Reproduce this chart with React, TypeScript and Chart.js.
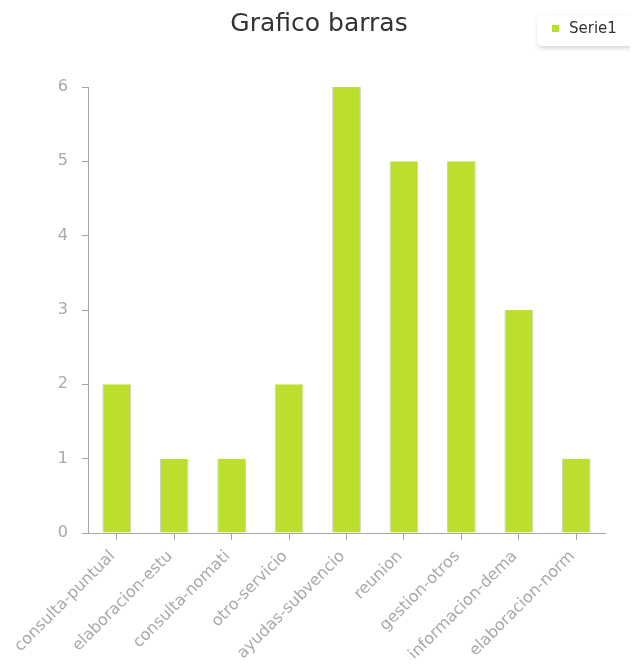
import React, { useEffect, useRef } from "react";
import { Chart, registerables } from "chart.js";

Chart.register(...registerables);

const categories = [
  "consulta-puntual",
  "elaboracion-estu",
  "consulta-nomati",
  "otro-servicio",
  "ayudas-subvencio",
  "reunion",
  "gestion-otros",
  "informacion-dema",
  "elaboracion-norm",
];
const serie1 = [2, 1, 1, 2, 6, 5, 5, 3, 1];
const seriesName = "Serie1";
const titleText = "Grafico barras";

const BAR = "#bbdf2c";
const AXIS = "#a6a6a6";
const LABEL = "#a8a8a8";
const FONT = "'DejaVu Sans', Verdana, sans-serif";

const decorPlugin = {
  id: "decor",
  afterDraw(chart: any) {
    const ctx = chart.ctx as CanvasRenderingContext2D;
    // title
    ctx.save();
    ctx.fillStyle = "#333333";
    ctx.font = `25px ${FONT}`;
    ctx.textAlign = "center";
    ctx.textBaseline = "middle";
    ctx.fillText(titleText, chart.width / 2, 16);
    ctx.restore();
    // legend
    const x = 529, y = 7, w = 110, h = 31, r = 6;
    ctx.save();
    ctx.shadowColor = "rgba(0,0,0,0.18)";
    ctx.shadowBlur = 5;
    ctx.shadowOffsetX = 1;
    ctx.shadowOffsetY = 2;
    ctx.fillStyle = "#ffffff";
    ctx.beginPath();
    ctx.moveTo(x + r, y);
    ctx.lineTo(x + w - r, y);
    ctx.quadraticCurveTo(x + w, y, x + w, y + r);
    ctx.lineTo(x + w, y + h - r);
    ctx.quadraticCurveTo(x + w, y + h, x + w - r, y + h);
    ctx.lineTo(x + r, y + h);
    ctx.quadraticCurveTo(x, y + h, x, y + h - r);
    ctx.lineTo(x, y + r);
    ctx.quadraticCurveTo(x, y, x + r, y);
    ctx.closePath();
    ctx.fill();
    ctx.restore();
    ctx.save();
    ctx.fillStyle = BAR;
    ctx.fillRect(x + 15, y + 10, 7, 7);
    ctx.fillStyle = "#333333";
    ctx.font = `15px ${FONT}`;
    ctx.textBaseline = "middle";
    ctx.fillText(seriesName, x + 32, y + 14);
    ctx.restore();
  },
};

export default function App() {
  const ref = useRef<HTMLCanvasElement>(null);
  useEffect(() => {
    if (!ref.current) return;
    const chart = new Chart(ref.current, {
      type: "bar",
      data: {
        labels: categories,
        datasets: [
          {
            label: seriesName,
            data: serie1,
            backgroundColor: BAR,
            borderColor: "rgba(160,170,150,0.55)",
            borderWidth: { left: 1, right: 1, top: 0, bottom: 0 },
            borderSkipped: false,
            barPercentage: 0.5,
            categoryPercentage: 1,
          },
        ],
      },
      options: {
        animation: false,
        responsive: true,
        maintainAspectRatio: false,
        layout: { padding: { left: 0, right: 25, top: 79, bottom: 0 } },
        plugins: {
          legend: { display: false },
          tooltip: { enabled: false },
          title: { display: false },
        },
        scales: {
          x: {
            grid: {
              display: true,
              offset: false,
              drawOnChartArea: false,
              drawTicks: true,
              tickLength: 7,
              color: AXIS,
            },
            border: { display: true, color: AXIS, width: 1 },
            ticks: {
              color: LABEL,
              font: { family: FONT, size: 16 },
              minRotation: 45,
              maxRotation: 45,
              padding: 7,
              labelOffset: -4,
              autoSkip: false,
            },
            afterFit(scale: any) {
              scale.height = 125;
            },
          },
          y: {
            min: 0,
            max: 6,
            grid: {
              display: true,
              drawOnChartArea: false,
              drawTicks: true,
              tickLength: 6,
              color: AXIS,
            },
            border: { display: true, color: AXIS, width: 1 },
            ticks: {
              stepSize: 1,
              color: LABEL,
              font: { family: FONT, size: 16 },
              padding: 14,
            },
            afterFit(scale: any) {
              scale.width = 80;
            },
          },
        },
      },
      plugins: [decorPlugin],
    });
    return () => chart.destroy();
  }, []);
  return (
    <div style={{ position: "relative", width: 622, height: 650 }}>
      <canvas ref={ref} />
    </div>
  );
}
